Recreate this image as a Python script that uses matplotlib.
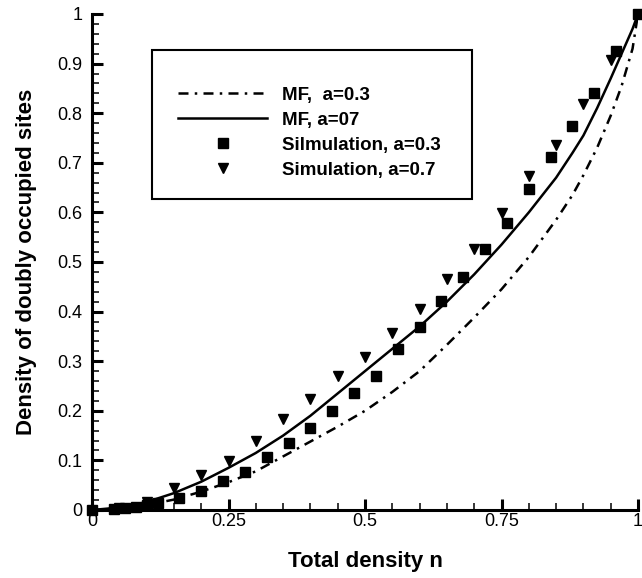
import matplotlib
matplotlib.use("Agg")
import matplotlib.pyplot as plt
from matplotlib.patches import Rectangle
from matplotlib.ticker import MultipleLocator

plt.rcParams["font.family"] = ["Liberation Sans", "DejaVu Sans"]

# MF curves
mf_x = [0, 0.05, 0.1, 0.15, 0.2, 0.25, 0.3, 0.35, 0.4, 0.45, 0.5, 0.55, 0.6,
        0.65, 0.7, 0.75, 0.8, 0.85, 0.88, 0.9, 0.925, 0.95, 0.97, 0.99, 1.0]
mf_03 = [0, 0.003, 0.01, 0.021, 0.037, 0.056, 0.078, 0.108, 0.138, 0.168,
         0.2, 0.238, 0.28, 0.333, 0.388, 0.445, 0.51, 0.585, 0.635, 0.675,
         0.73, 0.795, 0.855, 0.93, 1.0]
mf_07 = [0, 0.005, 0.016, 0.034, 0.057, 0.085, 0.115, 0.15, 0.19, 0.235,
         0.28, 0.325, 0.37, 0.42, 0.475, 0.535, 0.6, 0.67, 0.72, 0.755,
         0.81, 0.87, 0.92, 0.97, 1.0]

# simulation points
sim03_x = [0, 0.04, 0.06, 0.08, 0.10, 0.12, 0.16, 0.20, 0.24, 0.28, 0.32, 0.36,
           0.40, 0.44, 0.48, 0.52, 0.56, 0.60, 0.64, 0.68, 0.72, 0.76, 0.80,
           0.84, 0.88, 0.92, 0.96, 1.0]
sim03_y = [0, 0.002, 0.004, 0.007, 0.011, 0.014, 0.024, 0.039, 0.059, 0.077,
           0.106, 0.136, 0.166, 0.2, 0.235, 0.27, 0.324, 0.368, 0.421, 0.469,
           0.526, 0.579, 0.647, 0.711, 0.774, 0.84, 0.926, 1.0]
sim07_x = [0.05, 0.10, 0.15, 0.20, 0.25, 0.30, 0.35, 0.40, 0.45, 0.50, 0.55,
           0.60, 0.65, 0.70, 0.75, 0.80, 0.85, 0.90, 0.95]
sim07_y = [0.004, 0.017, 0.044, 0.071, 0.098, 0.139, 0.184, 0.224, 0.27, 0.309,
           0.356, 0.405, 0.465, 0.526, 0.598, 0.673, 0.736, 0.819, 0.907]

x_ticks = [0, 0.25, 0.5, 0.75, 1]
x_tick_labels = ["0", "0.25", "0.5", "0.75", "1"]
y_ticks = [0, 0.1, 0.2, 0.3, 0.4, 0.5, 0.6, 0.7, 0.8, 0.9, 1]
y_tick_labels = ["0", "0.1", "0.2", "0.3", "0.4", "0.5", "0.6", "0.7",
                 "0.8", "0.9", "1"]

fig = plt.figure(figsize=(6.42, 5.78), dpi=100)
ax = fig.add_axes([92 / 642, 68 / 578, 546 / 642, 496 / 578])

ax.plot(mf_x, mf_03, color="black", lw=1.8, linestyle=(0, (4, 2.5, 1, 2.5)),
        label="MF,  a=0.3")
ax.plot(mf_x, mf_07, color="black", lw=1.8, label="MF, a=07")
ax.plot(sim03_x, sim03_y, "s", color="black", ms=6.5, lw=0,
        label="Silmulation, a=0.3", clip_on=False)
ax.plot(sim07_x, sim07_y, "v", color="black", ms=7.5, lw=0,
        label="Simulation, a=0.7", clip_on=False)

ax.set_xlim(0, 1)
ax.set_ylim(0, 1)
for s in ["top", "right"]:
    ax.spines[s].set_visible(False)
for s in ["left", "bottom"]:
    ax.spines[s].set_linewidth(2.2)

ax.set_xticks(x_ticks)
ax.set_xticklabels(x_tick_labels)
ax.set_yticks(y_ticks)
ax.set_yticklabels(y_tick_labels)
ax.xaxis.set_minor_locator(MultipleLocator(0.05))
ax.yaxis.set_minor_locator(MultipleLocator(0.02))
ax.tick_params(which="major", direction="in", length=8, width=2.2,
               labelsize=13)
ax.tick_params(which="minor", direction="in", length=4.7, width=1.1)
ax.tick_params(axis="x", which="major", pad=2)
ax.tick_params(axis="y", which="major", pad=7)

ax.set_xlabel("Total density n", fontsize=16, fontweight="bold")
ax.set_ylabel("Density of doubly occupied sites", fontsize=16,
              fontweight="bold")
ax.xaxis.set_label_coords(0.5, -0.083)
ax.yaxis.set_label_coords(-0.1, 0.5)

ax.add_patch(Rectangle((0.110, 0.627), 0.586, 0.300, transform=ax.transAxes,
                       fill=False, lw=1.5, edgecolor="black", zorder=5))
ax.legend(loc="upper left", bbox_to_anchor=(0.1575, 0.853), frameon=False,
          borderpad=0, borderaxespad=0, handlelength=4.75, handletextpad=0.8,
          labelspacing=0.42, prop={"size": 13.5, "weight": "bold"})

fig.savefig("out.png", dpi=100)
